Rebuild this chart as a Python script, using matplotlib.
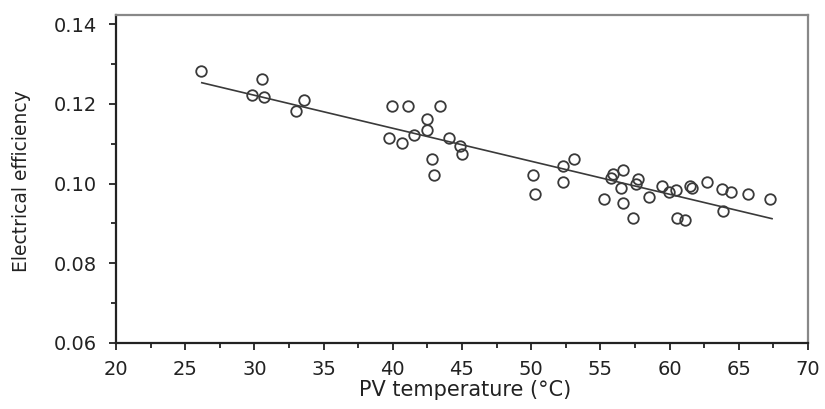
import matplotlib
matplotlib.use("Agg")
import matplotlib.pyplot as plt
import numpy as np
from matplotlib.ticker import MultipleLocator

pv_temp = [26.14, 29.80, 30.57, 30.72, 33.01, 33.58, 39.92, 41.12, 43.41, 42.45,
           42.45, 39.75, 40.69, 41.53, 44.08, 44.86, 45.02, 42.85, 43.00, 50.13,
           50.27, 52.32, 53.11, 52.32, 55.26, 55.93, 55.77, 56.61, 56.49, 56.61,
           57.38, 57.69, 57.57, 58.51, 59.47, 59.96, 60.44, 60.51, 61.11, 61.47,
           61.64, 62.68, 63.76, 64.41, 63.88, 65.64, 67.25]
efficiency = [0.1282, 0.1222, 0.1262, 0.1218, 0.1183, 0.1210, 0.1195, 0.1195, 0.1195, 0.1162,
              0.1135, 0.1115, 0.1103, 0.1122, 0.1115, 0.1095, 0.1074, 0.1062, 0.1022, 0.1022,
              0.0974, 0.1043, 0.1062, 0.1003, 0.0962, 0.1024, 0.1015, 0.1034, 0.0989, 0.0951,
              0.0913, 0.1012, 0.0999, 0.0966, 0.0995, 0.0979, 0.0983, 0.0913, 0.0909, 0.0995,
              0.0990, 0.1003, 0.0986, 0.0979, 0.0930, 0.0974, 0.0962]
fit_slope = -0.000828
fit_intercept = 0.1470
fit_x_range = [26.2, 67.4]

plt.rcParams['font.family'] = ['DejaVu Sans']

fig = plt.figure(figsize=(8.25, 4.09), dpi=100)
ax = fig.add_axes([0.1406, 0.1614, 0.8388, 0.8019])

ax.plot(pv_temp, efficiency, linestyle='none', marker='o', markersize=7.6,
        markerfacecolor='none', markeredgecolor='#3a3a3a', markeredgewidth=1.3)
fx = np.array(fit_x_range)
ax.plot(fx, fit_slope * fx + fit_intercept, color='#3a3a3a', linewidth=1.2)

ax.set_xlim(20, 70)
ax.set_ylim(0.06, 0.1423)
ax.xaxis.set_major_locator(MultipleLocator(5))
ax.xaxis.set_minor_locator(MultipleLocator(2.5))
ax.yaxis.set_major_locator(MultipleLocator(0.02))
ax.yaxis.set_minor_locator(MultipleLocator(0.01))
ax.yaxis.set_major_formatter(matplotlib.ticker.FormatStrFormatter('%.2f'))

ax.tick_params(which='major', direction='out', length=5, width=1.3, labelsize=14,
               colors='#222222')
ax.tick_params(which='minor', direction='out', length=3.5, width=1.3, colors='#222222')
ax.tick_params(axis='x', which='major', pad=7)
ax.tick_params(axis='y', which='major', pad=8.5)
for s in ['left', 'bottom']:
    ax.spines[s].set_color('#222222')
    ax.spines[s].set_linewidth(1.6)
for s in ['top', 'right']:
    ax.spines[s].set_color('#888888')
    ax.spines[s].set_linewidth(1.6)

ax.set_xlabel('PV temperature (°C)', fontsize=15, color='#222222')
ax.set_ylabel('Electrical efficiency', fontsize=13.5, color='#222222')
ax.xaxis.set_label_coords(0.504, -0.113)
ax.yaxis.set_label_coords(-0.137, 0.494)
ax.xaxis.label.set_va('top')
ax.yaxis.label.set_va('center')

fig.savefig('out.png', dpi=100)
